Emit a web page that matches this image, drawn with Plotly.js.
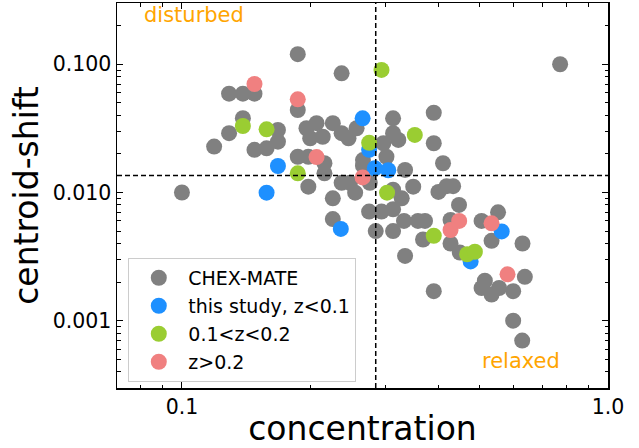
<!DOCTYPE html>
<html>
<head>
<meta charset="utf-8">
<script src="https://cdn.plot.ly/plotly-3.0.1.min.js"></script>
<style>
  html, body { margin: 0; padding: 0; background: #ffffff; }
  #chart { width: 639px; height: 448px; }
</style>
</head>
<body>
<div id="chart"></div>
<script>
// ---- data ----
const chexConc = [0.187, 0.237, 0.772, 0.129, 0.139, 0.148, 0.187, 0.139, 0.129, 0.168,
                  0.168, 0.119, 0.148, 0.158, 0.196, 0.207, 0.226, 0.237, 0.246, 0.257,
                  0.200, 0.214, 0.313, 0.390, 0.313, 0.322, 0.297, 0.390, 0.410, 0.266,
                  0.302, 0.187, 0.198, 0.216, 0.266, 0.334, 0.216, 0.198, 0.237, 0.248,
                  0.276, 0.255, 0.226, 0.349, 0.100, 0.275, 0.294, 0.313, 0.226, 0.285,
                  0.313, 0.332, 0.358, 0.372, 0.368, 0.334, 0.400, 0.418, 0.433, 0.313,
                  0.328, 0.447, 0.427, 0.505, 0.552, 0.533, 0.427, 0.630, 0.449, 0.638,
                  0.514, 0.505, 0.533, 0.555, 0.599, 0.390, 0.599, 0.629];
const chexShift = [0.120, 0.085, 0.100, 0.059, 0.059, 0.059, 0.044, 0.038, 0.029, 0.0307,
                   0.0249, 0.0228, 0.0215, 0.0221, 0.0317, 0.0347, 0.0347, 0.029, 0.0265, 0.0317,
                   0.0265, 0.0272, 0.0379, 0.0419, 0.029, 0.0257, 0.0242, 0.0242, 0.0169, 0.0179,
                   0.019, 0.019, 0.019, 0.0169, 0.0162, 0.015, 0.0141, 0.0111, 0.0119, 0.0119,
                   0.0119, 0.00996, 0.0090, 0.0111, 0.0100, 0.0071, 0.0071, 0.0074, 0.0062, 0.0050,
                   0.0050, 0.0060, 0.0060, 0.0060, 0.0043, 0.0032, 0.0101, 0.0112, 0.0112, 0.0105,
                   0.0090, 0.0080, 0.0061, 0.0060, 0.0070, 0.0042, 0.0040, 0.0040, 0.0034, 0.0022,
                   0.00205, 0.0018, 0.0016, 0.0018, 0.0017, 0.0017, 0.0010, 0.0007];

const lowzConc  = [0.2655, 0.275, 0.168, 0.2836, 0.305, 0.158, 0.236, 0.563, 0.476];
const lowzShift = [0.0379, 0.0215, 0.0161, 0.01545, 0.0149, 0.00996, 0.0052, 0.00497, 0.0029];

const midzConc  = [0.294, 0.139, 0.158, 0.352, 0.275, 0.187, 0.303, 0.390, 0.467, 0.487];
const midzShift = [0.0903, 0.033, 0.0311, 0.0281, 0.0244, 0.0141, 0.00996, 0.0046, 0.0033, 0.00345];

const highzConc  = [0.148, 0.187, 0.207, 0.2655, 0.4474, 0.427, 0.533, 0.581];
const highzShift = [0.0702, 0.0533, 0.0189, 0.0131, 0.0060, 0.0051, 0.00575, 0.0023];

const seriesNames = ["CHEX-MATE", "this study, z<0.1", "0.1<z<0.2", "z>0.2"];
const concThreshold = 0.285;
const shiftThreshold = 0.01358;

const xTickVals = [0.1, 1.0];
const xTickText = ["0.1", "1.0"];
const yTickVals = [0.001, 0.01, 0.1];
const yTickText = ["0.001", "0.010", "0.100"];
const xMinorVals = [0.08, 0.09, 0.2, 0.3, 0.4, 0.5, 0.6, 0.7, 0.8, 0.9];
const yMinorVals = [0.0004, 0.0005, 0.0006, 0.0007, 0.0008, 0.0009,
                    0.002, 0.003, 0.004, 0.005, 0.006, 0.007, 0.008, 0.009,
                    0.02, 0.03, 0.04, 0.05, 0.06, 0.07, 0.08, 0.09, 0.2, 0.3];

// ---- traces ----
const FONT = "DejaVu Sans, Verdana, sans-serif";
function mk(x, y, name, color, group) {
  return {
    type: "scatter", mode: "markers", x: x, y: y, name: name,
    legendgroup: group,
    marker: { color: color, size: 16, line: { width: 0 } },
    hoverinfo: "skip"
  };
}
const traces = [
  mk(chexConc, chexShift, seriesNames[0], "#808080", "g0"),
  mk(lowzConc, lowzShift, seriesNames[1], "#1E90FF", "g1"),
  mk(midzConc, midzShift, seriesNames[2], "#9ACD32", "g2"),
  mk(highzConc, highzShift, seriesNames[3], "#F08080", "g3")
];

const axisCommon = {
  type: "log",
  showgrid: false,
  zeroline: false,
  showline: true,
  linecolor: "#000000",
  linewidth: 1.5,
  mirror: "allticks",
  ticks: "inside",
  ticklen: 6,
  tickwidth: 1,
  tickcolor: "#000000",
  tickfont: { family: FONT, size: 20.5, color: "#000000" },
  tickmode: "array"
};

const layout = {
  width: 639, height: 448,
  margin: { l: 117, r: 31, t: 3, b: 60 },
  paper_bgcolor: "#ffffff",
  plot_bgcolor: "#ffffff",
  font: { family: FONT, color: "#000000" },
  showlegend: true,
  legend: {
    x: 0.023, y: 0.338, xanchor: "left", yanchor: "top",
    bgcolor: "rgba(255,255,255,0.8)",
    bordercolor: "#cccccc", borderwidth: 1,
    font: { family: FONT, size: 19, color: "#000000" },
    itemsizing: "trace",
    itemwidth: 49,
    tracegroupgap: 0.3
  },
  xaxis: Object.assign({}, axisCommon, {
    range: [Math.log10(0.0704), 0],
    tickvals: xTickVals, ticktext: xTickText,
    minor: { tickvals: xMinorVals, ticks: "inside", ticklen: 3.5, tickwidth: 1, tickcolor: "#000000", showgrid: false },
    title: { text: "concentration", font: { family: FONT, size: 33, color: "#000000" }, standoff: 6 }
  }),
  yaxis: Object.assign({}, axisCommon, {
    range: [-3.525, -0.522],
    tickvals: yTickVals, ticktext: yTickText,
    minor: { tickvals: yMinorVals, ticks: "inside", ticklen: 3.5, tickwidth: 1, tickcolor: "#000000", showgrid: false },
    title: { text: "centroid-shift", font: { family: FONT, size: 33, color: "#000000" }, standoff: 4 }
  }),
  shapes: [
    { type: "line", xref: "x", yref: "paper", x0: concThreshold, x1: concThreshold, y0: 0, y1: 1,
      line: { color: "#000000", width: 1.5, dash: "5px,3px" } },
    { type: "line", xref: "paper", yref: "y", x0: 0, x1: 1, y0: shiftThreshold, y1: shiftThreshold,
      line: { color: "#000000", width: 1.5, dash: "5px,3px" } }
  ],
  annotations: [
    { text: "disturbed", xref: "x", yref: "y", x: Math.log10(0.0807), y: Math.log10(0.241),
      xanchor: "left", yanchor: "middle", showarrow: false,
      font: { family: FONT, size: 21, color: "#FFA500" } },
    { text: "relaxed", xref: "x", yref: "y", x: Math.log10(0.502), y: Math.log10(0.000485),
      xanchor: "left", yanchor: "middle", showarrow: false,
      font: { family: FONT, size: 21, color: "#FFA500" } }
  ]
};

Plotly.newPlot("chart", traces, layout, { displayModeBar: false, staticPlot: true });
</script>
</body>
</html>
